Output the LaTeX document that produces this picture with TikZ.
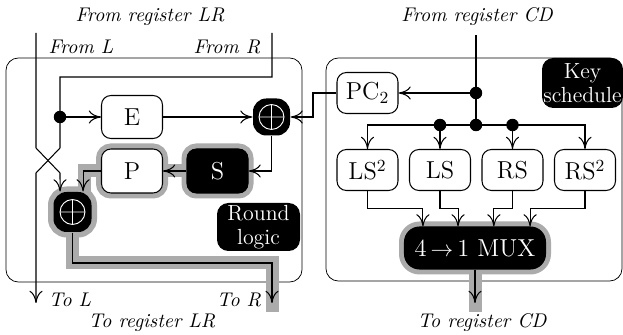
\documentclass[tikz,border=0pt]{standalone}
\usetikzlibrary{arrows.meta,backgrounds}
\newcommand\pxw{0.5302pt}
\definecolor{bandgray}{gray}{0.67}
\begin{document}
\begin{tikzpicture}[x=0.5302pt, y=-0.5302pt, line width=0.55pt,
  >={Computer Modern Rightarrow[length=6.5pt,width=7pt]},
  box/.style={draw, fill=white, rounded corners=5pt, minimum width=61*\pxw,
    minimum height=43*\pxw, inner sep=0pt, font=\fontsize{13}{15}\selectfont},
  dark/.style={fill=black, text=white},
  halo/.style={preaction={draw=bandgray, line width=11*\pxw}},
  band/.style={draw=bandgray, line width=13*\pxw, line cap=butt, line join=miter},
  xorg/.style={fill=black, rounded corners=7pt, minimum width=37*\pxw,
    minimum height=37*\pxw, inner sep=0pt,
    path picture={
      \draw[white, line width=0.5pt] (path picture bounding box.center) circle (6.6pt)
        ([xshift=-6.6pt]path picture bounding box.center) -- ([xshift=6.6pt]path picture bounding box.center)
        ([yshift=-6.6pt]path picture bounding box.center) -- ([yshift=6.6pt]path picture bounding box.center);
    }},
  lbl/.style={font=\fontsize{10.5}{12.5}\selectfont\itshape, inner sep=0pt},
  tag/.style={dark, inner sep=0pt, align=center, font=\fontsize{11.6}{12.7}\selectfont},
  dot/.style={fill=black}
]
\useasboundingbox (0,0) rectangle (623,335);

% ---- round logic ----
\node[box] (E) at (132,117) {E};
\node[box, halo, minimum height=44*\pxw] (P) at (132,171) {P};
\node[box, dark, halo, minimum height=44*\pxw] (S) at (217.5,171) {S};
\node[xorg] (X1) at (271.5,117) {};
\node[xorg, halo, minimum width=38*\pxw, minimum height=40*\pxw] (X2) at (72.5,212) {};
\node[tag, rounded corners=6pt, minimum width=83*\pxw, minimum height=48*\pxw] (RL) at (258.5,227) {Round\\logic};

% ---- key schedule ----
\node[box, minimum height=41*\pxw] (PC) at (367.5,93) {PC$_2$};
\node[box, minimum height=41*\pxw] (LS2) at (367.5,170) {LS$^2$};
\node[box, minimum height=41*\pxw] (LS) at (440,170) {LS};
\node[box, minimum height=41*\pxw] (RS) at (512.5,170) {RS};
\node[box, minimum height=41*\pxw] (RS2) at (585,170) {RS$^2$};
\node[box, dark, halo, rounded corners=8pt, minimum width=141*\pxw, minimum height=42*\pxw] (MUX) at (475,248) {4\,$\rightarrow$\,1 MUX};
\node[tag, rounded corners=6pt, minimum width=81*\pxw, minimum height=50*\pxw] (KS) at (582.5,83) {Key\\schedule};

% ---- labels ----
\node[lbl] (fLR) at (150,17) {From register LR};
\node[lbl] (fL) at (81,47) {From L};
\node[lbl] (fR) at (227,47) {From R};
\node[lbl] (fCD) at (477,17) {From register CD};
\node[lbl] (tL) at (70,300) {To L};
\node[lbl] (tR) at (239,300) {To R};
\node[lbl] (tLR) at (152,323) {To register LR};
\node[lbl] (tCD) at (482,323) {To register CD};

% ---- end points and junctions ----
\coordinate (Ltop) at (36,33);
\coordinate (Rtop) at (272,33);
\coordinate (CDtop) at (476,35);
\coordinate (dE) at (60,117);
\coordinate (dPC) at (476,93);
\coordinate (dbus) at (476,125);
\coordinate (dLS) at (440,125);
\coordinate (dRS) at (512.5,125);
\coordinate (Lout) at (36,303);
\coordinate (Rout) at (272,303);
\coordinate (CDout) at (475,303);
\coordinate (Rend) at (272,312);
\coordinate (CDend) at (475,312);

% ---- frames and data-path bands ----
\begin{scope}[on background layer]
  \draw[rounded corners=6.5pt] (6,58) rectangle (302,282);
  \draw[rounded corners=6.5pt] (326,58) rectangle (622,281);
  \path[band] (S.center) -- (P.center);
  \path[band] (P.center) -| ([xshift=6.5pt]X2.center);
  \path[band] (X2.center) -- (72.5,263) -| (Rend);
  \path[band] (MUX.center) -- (CDend);
\end{scope}

% ---- round logic wiring ----
\draw[->] (Ltop) -- (36,148) -- (60,173) -- ([xshift=-6.6pt]X2.north);
\draw[->] (Rtop) -- (272,77) -- (60,77) -- (dE) -- (60,148) -- (36,173) -- (Lout);
\fill[dot] (dE) circle (3.3pt);
\draw[->] (dE) -- (E);
\draw[->] (E) -- (X1);
\draw[->] (PC) -- (313,93) |- (X1);
\draw[->] (X1) |- (S);
\draw[->] (S) -- (P);
\draw[->] (P) -| ([xshift=5.6pt]X2.north);
\draw[->] (X2) -- (72.5,263) -| (Rout);

% ---- key schedule wiring ----
\draw (CDtop) -- (dbus);
\fill[dot] (dPC) circle (3.3pt);
\draw[->] (dPC) -- (PC);
\draw[->] (dbus) -| (LS2);
\draw[->] (dbus) -| (RS2);
\fill[dot] (dbus) circle (3.3pt);
\fill[dot] (dLS) circle (3.3pt);
\fill[dot] (dRS) circle (3.3pt);
\draw[->] (dLS) -- (LS);
\draw[->] (dRS) -- (RS);
\draw[->] (LS2) -- ++(0,38.5) -| ([xshift=-27.6pt]MUX.north);
\draw[->] (LS) -- ++(0,38.5) -| ([xshift=-9pt]MUX.north);
\draw[->] (RS) -- ++(0,38.5) -| ([xshift=10pt]MUX.north);
\draw[->] (RS2) -- ++(0,38.5) -| ([xshift=29.2pt]MUX.north);
\draw[->] (MUX) -- (CDout);
\end{tikzpicture}
\end{document}
